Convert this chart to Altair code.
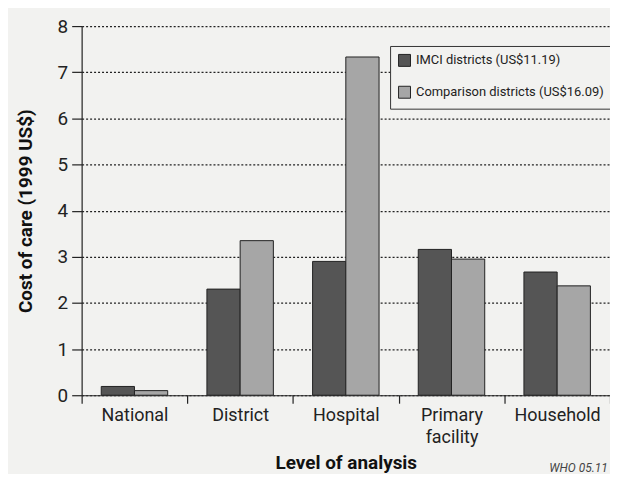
import altair as alt
import pandas as pd

categories = ["National", "District", "Hospital", "Primary facility", "Household"]
groups = ["IMCI districts (US$11.19)", "Comparison districts (US$16.09)"]
imci_values = [0.19, 2.30, 2.90, 3.16, 2.67]
comparison_values = [0.10, 3.35, 7.33, 2.95, 2.37]
group_colors = ["#555555", "#a6a6a6"]

rows = []
for c, v in zip(categories, imci_values):
    rows.append({"level": c, "group": groups[0], "cost": v})
for c, v in zip(categories, comparison_values):
    rows.append({"level": c, "group": groups[1], "cost": v})
df = pd.DataFrame(rows)

FONT = "Roboto"
BG = "#f2f2f0"

bars = alt.Chart(df).mark_bar(stroke="#222222", strokeWidth=1).encode(
    x=alt.X(
        "level:N",
        sort=categories,
        scale=alt.Scale(paddingInner=0, paddingOuter=0),
        axis=alt.Axis(
            title="Level of analysis",
            labelAngle=0,
            labelExpr="split(datum.label, ' ')",
            labelLineHeight=23,
            labelFontSize=18,
            labelFont=FONT,
            labelColor="#222222",
            labelPadding=3,
            tickBand="extent",
            tickSize=8,
            tickColor="#222222",
            tickWidth=1.2,
            domainColor="#222222",
            domainWidth=1.2,
            grid=False,
            titleFont=FONT,
            titleFontSize=19,
            titleFontWeight="bold",
            titleColor="#111111",
            titleY=68,
            titleBaseline="middle",
        ),
    ),
    xOffset=alt.XOffset(
        "group:N",
        sort=groups,
        scale=alt.Scale(paddingOuter=0.59, paddingInner=0),
    ),
    y=alt.Y(
        "cost:Q",
        scale=alt.Scale(domain=[0, 8], nice=False),
        axis=alt.Axis(
            title="Cost of care (1999 US$)",
            values=[0, 1, 2, 3, 4, 5, 6, 7, 8],
            labelFontSize=19,
            labelFont=FONT,
            labelColor="#222222",
            labelPadding=4,
            tickSize=10,
            tickColor="#222222",
            tickWidth=1.2,
            domainColor="#222222",
            domainWidth=1.2,
            grid=True,
            gridColor="#222222",
            gridDash=[2, 2],
            gridWidth=1.2,
            titleFont=FONT,
            titleFontSize=19,
            titleFontWeight="bold",
            titleColor="#111111",
            titlePadding=22,
        ),
    ),
    color=alt.Color(
        "group:N",
        sort=groups,
        scale=alt.Scale(domain=groups, range=group_colors),
        legend=alt.Legend(
            title=None,
            orient="none",
            legendX=310,
            legendY=20,
            strokeColor="#333333",
            fillColor=BG,
            padding=8,
            rowPadding=15,
            symbolType="square",
            symbolSize=144,
            symbolStrokeColor="#222222",
            symbolStrokeWidth=1,
            labelFont=FONT,
            labelFontSize=13,
            labelColor="#222222",
            labelOffset=5,
            labelLimit=300,
        ),
    ),
)

note = alt.Chart(pd.DataFrame({"t": ["WHO 05.11"]})).mark_text(
    font=FONT, fontSize=12, fontStyle="italic", color="#444444", align="left", baseline="middle"
).encode(x=alt.value(470), y=alt.value(444), text="t:N")

chart = alt.layer(bars, note).properties(
    width=531,
    height=371,
    padding={"left": 74, "top": 17, "right": 0, "bottom": 78},
    autosize=alt.AutoSizeParams(type="none"),
    background=BG,
).configure_view(stroke=None)

chart.save("out.html", embed_options={"renderer": "svg", "actions": False})
